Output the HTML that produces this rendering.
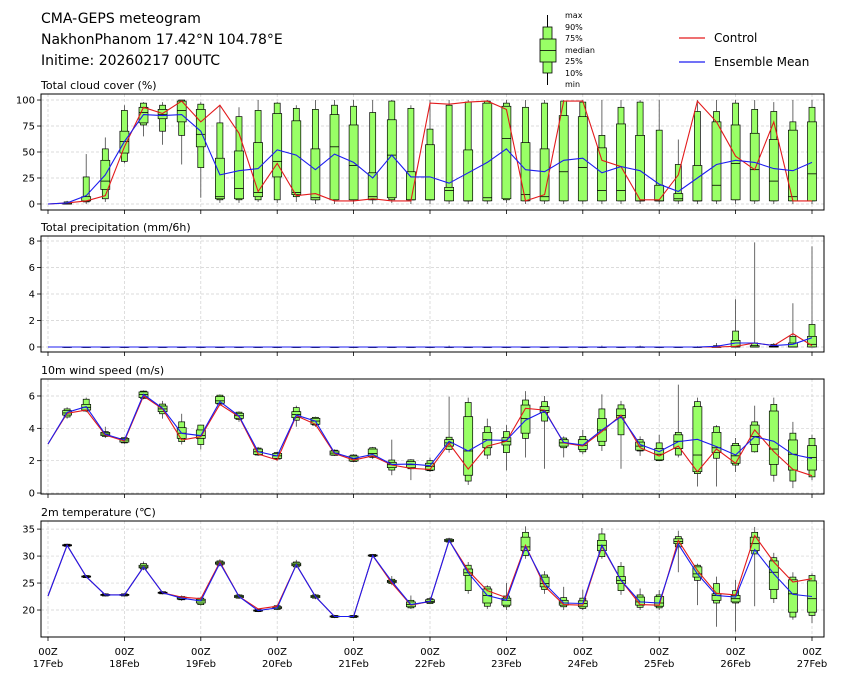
<!DOCTYPE html>
<html><head><meta charset="utf-8"><style>
body{margin:0;background:#fff;}
svg{display:block;font-family:"DejaVu Sans","Liberation Sans",sans-serif;}
</style></head><body>
<svg id="chart" width="841" height="680" viewBox="0 0 841 680" xmlns="http://www.w3.org/2000/svg">
<g font-size="14" fill="#000">
<text x="41" y="23">CMA-GEPS meteogram</text>
<text x="41" y="44">NakhonPhanom 17.42°N 104.78°E</text>
<text x="41" y="65">Initime: 20260217 00UTC</text>
</g>
<g>
<line x1="547.5" y1="15" x2="547.5" y2="85" stroke="#000" stroke-width="1"/>
<rect x="543" y="27" width="9" height="46" fill="#99ff66" stroke="#000" stroke-width="0.8"/>
<rect x="540" y="39" width="16" height="23" fill="#99ff66" stroke="#000" stroke-width="0.8"/>
<line x1="540" y1="50.5" x2="556" y2="50.5" stroke="#000" stroke-width="0.8"/>
<g font-size="8" fill="#000">
<text x="565" y="18">max</text><text x="565" y="30">90%</text><text x="565" y="41">75%</text><text x="565" y="53">median</text><text x="565" y="64">25%</text><text x="565" y="76">10%</text><text x="565" y="87">min</text>
</g>
</g>
<g font-size="12">
<line x1="679" y1="38" x2="705" y2="38" stroke="#e31a1c" stroke-width="1.2"/>
<text x="714" y="42">Control</text>
<line x1="679" y1="62" x2="705" y2="62" stroke="#1c1cf0" stroke-width="1.2"/>
<text x="714" y="66">Ensemble Mean</text>
</g>
<g id="panels"></g>
</svg>
<script>
// ---- data (41 steps, 6-hourly from 17Feb 00Z) ----
const dayLabels = ["17Feb","18Feb","19Feb","20Feb","21Feb","22Feb","23Feb","24Feb","25Feb","26Feb","27Feb"];
const cloudCtrl = [0,1,3,8,55,93,87,99,79,95,68,12,39,8,10,3,3,5,3,3,97,96,98,99,91,3,9,99,99,42,36,4,4,28,99,79,46,33,79,3,3];
const cloudMean = [0,1,8,28,60,86,85,86,70,28,32,34,52,47,33,48,40,25,47,26,26,20,30,40,53,33,31,42,44,30,36,32,19,12,25,38,42,40,34,32,40];
const cloudMin = [null,0,0,2,39,65,57,38,6,1,1,2,1,2,0,0,0,0,1,0,0,0,0,0,1,0,0,0,0,0,0,0,0,0,0,0,0,0,0,0,0];
const cloudP10 = [null,0,2,5,41,76,70,66,35,4,4,4,4,7,4,4,4,4,4,4,4,3,3,3,4,3,3,3,3,3,3,3,3,3,3,3,4,3,3,3,3];
const cloudP25 = [null,0,3,14,49,78,82,79,55,5,5,7,26,9,4,4,4,4,6,4,4,3,3,3,5,3,3,3,3,3,3,3,3,3,3,3,4,3,3,3,3];
const cloudMed = [null,0,3,22,60,88,86,90,67,7,15,11,41,11,6,55,37,7,47,4,4,13,3,6,63,9,7,31,35,13,13,3,3,5,3,18,39,33,22,7,29];
const cloudP75 = [null,1,7,42,70,93,91,99,91,44,51,59,87,80,53,86,76,30,81,31,57,16,52,97,94,59,53,85,84,54,77,66,18,10,37,79,76,68,62,71,79];
const cloudP90 = [null,2,26,53,90,97,95,100,96,78,84,90,97,92,91,95,94,88,99,92,72,95,98,99,97,93,97,99,98,66,93,98,71,38,89,89,97,91,89,79,93];
const cloudMax = [null,3,48,64,95,98,98,100,98,95,93,100,98,95,100,100,100,100,100,95,100,100,100,100,100,100,100,100,100,100,100,100,100,62,100,100,100,100,98,100,100];

const precCtrl = [0,0,0,0,0,0,0,0,0,0,0,0,0,0,0,0,0,0,0,0,0,0,0,0,0,0,0,0,0,0,0,0,0,0,0,0,0.05,0.3,0.1,1.0,0.1];
const precMean = [0,0,0,0,0,0,0,0,0,0,0,0,0,0,0,0,0,0,0,0,0,0,0,0,0,0,0,0,0,0,0,0,0,0,0,0.05,0.3,0.3,0.1,0.2,0.7];
const precMin = [null,0,0,0,0,0,0,0,0,0,0,0,0,0,0,0,0,0,0,0,0,0,0,0,0,0,0,0,0,0,0,0,0,0,0,0,0,0,0,0,0];
const precP10 = [null,0,0,0,0,0,0,0,0,0,0,0,0,0,0,0,0,0,0,0,0,0,0,0,0,0,0,0,0,0,0,0,0,0,0,0,0,0,0,0,0];
const precP25 = [null,0,0,0,0,0,0,0,0,0,0,0,0,0,0,0,0,0,0,0,0,0,0,0,0,0,0,0,0,0,0,0,0,0,0,0,0,0,0,0,0];
const precMed = [null,0,0,0,0,0,0,0,0,0,0,0,0,0,0,0,0,0,0,0,0,0,0,0,0,0,0,0,0,0,0,0,0,0,0,0,0,0,0,0,0.2];
const precP75 = [null,0,0,0,0,0,0,0,0,0,0,0,0,0,0,0,0,0,0,0,0,0,0,0,0,0,0,0,0,0,0,0,0,0,0,0,0.5,0.1,0.05,0.3,0.8];
const precP90 = [null,0,0,0,0,0,0,0,0,0,0,0,0,0,0,0,0,0,0,0,0,0,0,0,0,0,0,0,0,0,0,0.02,0,0,0,0.1,1.2,0.3,0.2,0.8,1.7];
const precMax = [null,0,0,0,0,0,0,0,0,0,0,0,0,0,0,0,0,0,0,0,0,0.1,0,0,0,0,0,0,0,0.1,0,0.1,0,0,0.05,0.3,3.6,7.9,0.3,3.3,7.6];

const windCtrl = [3.03,4.93,5.13,3.59,3.22,6.0,5.2,3.28,3.48,5.48,4.72,2.41,2.04,4.78,4.25,2.45,2.04,2.29,1.73,1.53,1.46,3.07,1.48,2.9,3.2,5.24,5.13,3.1,2.9,3.8,4.82,2.8,2.29,2.9,1.32,2.72,1.84,3.9,2.56,1.46,1.07];
const windMean = [3.03,4.99,5.34,3.63,3.28,6.1,5.24,3.69,3.55,5.65,4.76,2.56,2.29,4.82,4.45,2.49,2.14,2.39,1.77,1.79,1.69,3.2,2.6,3.28,3.26,4.5,5.07,3.13,2.97,3.9,4.72,3.0,2.56,3.18,3.32,2.87,2.35,3.48,3.2,2.39,2.14];
const windMin = [null,4.6,5.0,3.4,3.05,5.8,4.6,3.0,2.7,5.4,4.4,2.3,2.0,4.1,4.1,2.3,1.9,2.1,1.1,0.8,1.3,2.5,0.5,2.1,1.4,2.2,1.5,2.2,2.4,2.6,1.5,2.3,2.0,2.2,0.4,0.4,1.3,2.5,0.7,0.3,0.8];
const windP10 = [null,4.7,5.07,3.5,3.1,5.85,4.9,3.18,3.0,5.5,4.55,2.35,2.1,4.5,4.2,2.33,1.95,2.2,1.42,1.5,1.38,2.7,0.74,2.35,2.5,3.38,4.45,2.8,2.55,2.93,3.6,2.6,2.0,2.35,1.2,2.15,1.73,2.55,1.1,0.74,1.0];
const windP25 = [null,4.82,5.13,3.55,3.15,5.9,5.03,3.38,3.38,5.55,4.62,2.39,2.14,4.66,4.25,2.35,1.98,2.25,1.57,1.57,1.42,2.9,1.1,2.8,2.97,3.7,4.99,2.9,2.7,3.2,4.65,2.65,2.05,2.75,1.32,2.5,1.84,3.0,1.77,1.42,1.42];
const windMed = [null,4.95,5.3,3.65,3.28,6.1,5.2,3.7,3.55,5.7,4.78,2.55,2.3,4.85,4.45,2.47,2.12,2.45,1.75,1.75,1.65,3.1,2.6,3.3,3.2,4.6,5.1,3.1,2.95,3.9,4.8,2.9,2.4,3.2,2.35,2.8,2.3,3.5,2.72,2.4,2.2];
const windP75 = [null,5.1,5.48,3.75,3.38,6.25,5.38,4.04,3.9,5.96,4.93,2.72,2.45,5.03,4.62,2.6,2.29,2.72,1.9,1.94,1.84,3.3,4.72,3.75,3.42,5.44,5.34,3.3,3.3,4.6,5.2,3.15,2.75,3.6,5.34,3.75,2.93,4.2,5.07,3.28,2.93];
const windP90 = [null,5.2,5.8,3.8,3.42,6.3,5.5,4.4,4.2,6.05,5.0,2.78,2.5,5.28,4.68,2.65,2.35,2.8,2.04,2.05,2.0,3.45,5.6,4.1,3.8,5.75,5.65,3.4,3.5,5.2,5.45,3.3,3.1,3.75,5.65,4.1,3.07,4.4,5.48,3.7,3.38];
const windMax = [null,5.3,5.9,4.1,3.45,6.35,5.7,4.9,4.2,6.1,5.05,2.85,2.55,5.4,4.72,2.7,2.4,2.85,3.3,2.1,2.2,5.96,5.9,4.6,4.2,6.3,6.0,3.5,3.9,6.1,5.7,3.5,3.6,6.7,5.9,4.2,3.4,5.4,5.9,4.4,3.6];

const tempCtrl = [22.6,32.0,26.2,22.8,22.8,28.0,23.2,22.4,22.1,28.9,22.5,20.2,20.7,28.4,22.5,18.8,18.8,30.1,25.0,20.9,21.6,32.9,27.3,23.6,22.3,32.0,24.4,21.0,20.9,31.8,25.5,21.0,20.9,32.9,27.3,23.1,22.8,33.8,28.9,25.2,25.8];
const tempMean = [22.6,32.0,26.2,22.8,22.8,28.0,23.2,22.2,21.7,28.7,22.5,19.9,20.4,28.4,22.5,18.8,18.8,30.1,25.3,21.0,21.6,32.9,26.9,22.7,21.8,31.7,24.9,21.3,21.2,32.0,25.5,21.5,21.3,32.2,26.7,22.7,22.4,31.2,26.7,22.9,22.5];
const tempMin = [null,31.7,25.9,22.5,22.5,27.4,22.9,21.7,20.8,28.1,22.1,19.6,20.0,27.8,22.0,18.5,18.5,29.8,24.6,20.2,21.1,32.5,23.0,20.2,20.0,29.5,23.0,20.0,20.0,29.5,22.8,20.0,20.0,27.0,20.9,16.9,16.0,20.7,21.3,18.2,17.6];
const tempP10 = [null,31.8,26.0,22.6,22.6,27.6,23.0,21.9,21.0,28.3,22.2,19.7,20.1,28.0,22.2,18.6,18.6,29.9,24.9,20.4,21.2,32.6,23.6,20.7,20.6,30.1,23.8,20.6,20.3,29.9,23.6,20.5,20.4,31.7,25.5,21.3,21.3,30.4,22.1,18.7,19.0];
const tempP25 = [null,31.9,26.1,22.7,22.7,27.8,23.1,22.0,21.3,28.5,22.3,19.8,20.3,28.2,22.3,18.7,18.7,30.0,25.1,20.6,21.4,32.7,26.4,21.3,20.9,31.0,24.3,20.9,20.6,31.0,24.9,20.9,20.7,32.3,26.1,21.8,21.5,31.0,23.8,19.6,19.6];
const tempMed = [null,32.0,26.2,22.8,22.8,28.0,23.2,22.2,21.7,28.7,22.5,19.9,20.4,28.4,22.5,18.8,18.8,30.1,25.3,21.0,21.6,32.9,26.9,22.7,21.8,31.7,24.9,21.3,21.2,32.0,25.5,21.5,21.3,32.7,26.7,22.7,22.1,32.3,27.0,23.0,22.1];
const tempP75 = [null,32.1,26.3,22.9,22.9,28.3,23.3,22.4,22.0,28.9,22.7,20.0,20.6,28.7,22.7,18.9,18.9,30.2,25.5,21.5,21.9,33.1,27.6,23.9,22.2,33.5,26.1,21.8,21.7,32.9,26.2,22.4,22.5,33.2,28.0,23.0,22.7,33.5,29.1,25.6,25.4];
const tempP90 = [null,32.2,26.4,23.0,23.0,28.6,23.4,22.5,22.2,29.1,22.8,20.1,20.8,28.9,22.8,19.0,19.0,30.3,25.7,21.8,22.1,33.2,28.3,24.3,22.6,34.4,26.5,22.3,22.2,34.1,28.1,22.8,22.8,33.6,28.3,24.9,23.6,34.4,29.7,26.1,26.4];
const tempMax = [null,32.3,26.5,23.1,23.1,29.0,23.5,22.7,22.4,29.4,23.0,20.2,21.0,29.3,23.0,19.1,19.1,30.4,26.3,22.7,22.4,33.4,28.9,24.6,25.0,35.5,27.2,24.3,23.8,35.2,28.9,24.0,23.7,34.7,28.6,26.2,25.6,35.4,30.6,27.0,26.8];

const cloudTicks = [0,25,50,75,100];
const precTicks = [0,2,4,6,8];
const windTicks = [0,2,4,6];
const tempTicks = [20,25,30,35];

// ---- drawing ----
const NS = "http://www.w3.org/2000/svg";
const root = document.getElementById("panels");
const X0 = 41, X1 = 824;
const xStep = i => 48 + i * (812 - 48) / 40;
function mk(tag, attrs, parent) {
  const e = document.createElementNS(NS, tag);
  for (const k in attrs) e.setAttribute(k, attrs[k]);
  (parent || root).appendChild(e);
  return e;
}
const panels = [
  {name:"cloud-cover", title:"Total cloud cover (%)", top:94, bot:210, vmin:-5.8, vmax:105.8, ticks:cloudTicks, fmt:v=>String(v),
   ctrl:cloudCtrl, mean:cloudMean, st:[cloudMin,cloudP10,cloudP25,cloudMed,cloudP75,cloudP90,cloudMax]},
  {name:"precipitation", title:"Total precipitation (mm/6h)", top:236, bot:352, vmin:-0.38, vmax:8.38, ticks:precTicks, fmt:v=>String(v),
   ctrl:precCtrl, mean:precMean, st:[precMin,precP10,precP25,precMed,precP75,precP90,precMax]},
  {name:"wind-speed", title:"10m wind speed (m/s)", top:379, bot:494, vmin:-0.06, vmax:7.05, ticks:windTicks, fmt:v=>String(v),
   ctrl:windCtrl, mean:windMean, st:[windMin,windP10,windP25,windMed,windP75,windP90,windMax]},
  {name:"temperature", title:"2m temperature (\u2103)", top:521, bot:637, vmin:15, vmax:36.5, ticks:tempTicks, fmt:v=>String(v),
   ctrl:tempCtrl, mean:tempMean, st:[tempMin,tempP10,tempP25,tempMed,tempP75,tempP90,tempMax]}
];
panels.forEach((p, pi) => {
  const g = mk("g", {});
  
  
  const y = v => p.bot - (v - p.vmin) / (p.vmax - p.vmin) * (p.bot - p.top);
  const t = mk("text", {x:41, y:p.top - 5, "font-size":11}, g);
  t.textContent = p.title;
  
  
  // grid
  for (let d = 0; d < dayLabels.length; d++) {
    const gx = xStep(d * 4);
    mk("line", {x1:gx, x2:gx, y1:p.top, y2:p.bot, stroke:"#d0d0d0", "stroke-width":0.7, "stroke-dasharray":"3,2"}, g);
    mk("line", {x1:gx, x2:gx, y1:p.bot, y2:p.bot + 4, stroke:"#000", "stroke-width":0.8}, g);
  }
  p.ticks.forEach(v => {
    const ty = y(v);
    mk("line", {x1:X0, x2:X1, y1:ty, y2:ty, stroke:"#d0d0d0", "stroke-width":0.7, "stroke-dasharray":"3,2"}, g);
    mk("line", {x1:X0 - 4, x2:X0, y1:ty, y2:ty, stroke:"#000", "stroke-width":0.8}, g);
    const lt = mk("text", {x:X0 - 6, y:ty + 3.5, "font-size":10, "text-anchor":"end"}, g);
    lt.textContent = p.fmt(v);
    
    
  });
  // boxes
  const [mn, p10, p25, md, p75, p90, mx] = p.st;
  for (let i = 1; i < mn.length; i++) {
    if (mn[i] === null) continue;
    const cx = xStep(i);
    const bg = mk("g", {}, g);
    
    
    mk("line", {x1:cx, x2:cx, y1:y(mn[i]), y2:y(mx[i]), stroke:"#444", "stroke-width":0.8}, bg);
    mk("rect", {x:cx - 3, y:y(p90[i]), width:6, height:Math.max(0.5, y(p10[i]) - y(p90[i])), fill:"#99ff66", stroke:"#000", "stroke-width":0.7}, bg);
    mk("rect", {x:cx - 4.5, y:y(p75[i]), width:9, height:Math.max(0.5, y(p25[i]) - y(p75[i])), fill:"#99ff66", stroke:"#000", "stroke-width":0.7}, bg);
    mk("line", {x1:cx - 4.5, x2:cx + 4.5, y1:y(md[i]), y2:y(md[i]), stroke:"#000", "stroke-width":0.8}, bg);
  }
  const pts = arr => arr.map((v, i) => xStep(i).toFixed(1) + "," + y(v).toFixed(1)).join(" ");
  const lc = mk("polyline", {points:pts(p.ctrl), fill:"none", stroke:"#e31a1c", "stroke-width":1.1}, g);
  
  
  const lm = mk("polyline", {points:pts(p.mean), fill:"none", stroke:"#1c1cf0", "stroke-width":1.1}, g);
  
  
  mk("rect", {x:X0, y:p.top, width:X1 - X0, height:p.bot - p.top, fill:"none", stroke:"#000", "stroke-width":1}, g);
  if (pi === 3) {
    dayLabels.forEach((d, k) => {
      const gx = xStep(k * 4);
      const a = mk("text", {x:gx, y:655, "font-size":10, "text-anchor":"middle"}, g);
      a.textContent = "00Z";
      
      
      const b = mk("text", {x:gx, y:667, "font-size":10, "text-anchor":"middle"}, g);
      b.textContent = d;
      
      
    });
  }
});
</script>
</body></html>
